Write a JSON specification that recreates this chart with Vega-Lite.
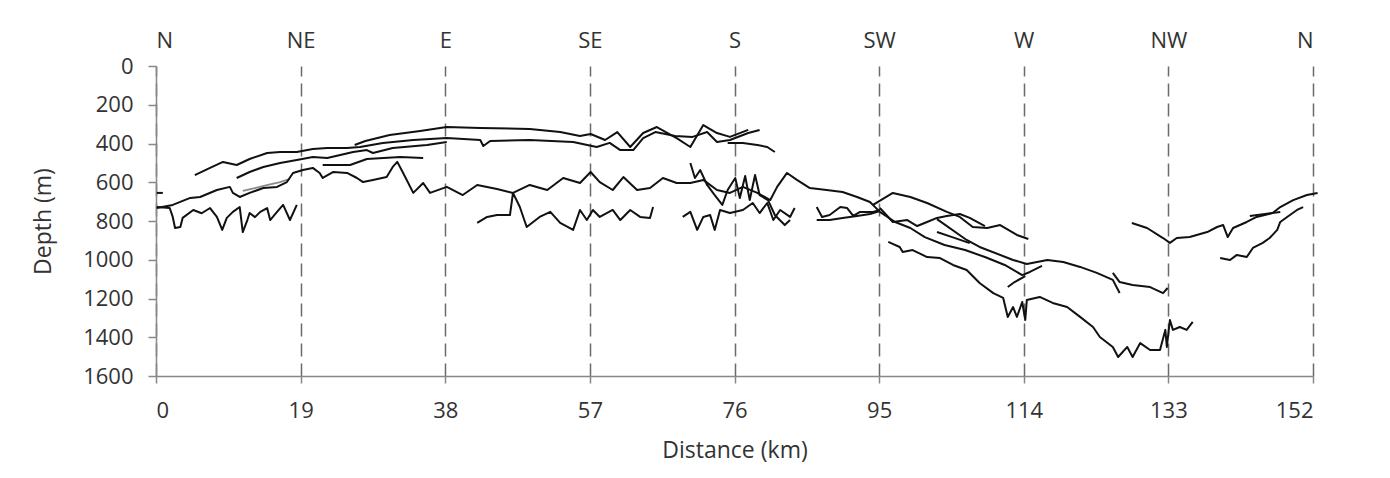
{
  "$schema": "https://vega.github.io/schema/vega-lite/v6.json",
  "autosize": {"type": "none"},
  "padding": {"left": 156, "top": 66, "right": 77, "bottom": 102},
  "width": 1157,
  "height": 310,
  "background": "white",
  "config": {
    "view": {"stroke": null},
    "axis": {
      "labelFont": "Open Sans", "labelFontSize": 22, "labelColor": "#333",
      "titleFont": "Open Sans", "titleFontSize": 23, "titleFontWeight": "normal", "titleColor": "#333",
      "domainColor": "#888", "tickColor": "#888", "domainWidth": 1.5, "tickWidth": 1.5
    }
  },
  "datasets": {
    "tracks": [
      {"s":"Z0","x":0.1,"d":655},{"s":"Z0","x":0.9,"d":655},
      {"s":"A","x":0.1,"d":728},{"s":"A","x":1.8,"d":733},{"s":"A","x":2.2,"d":779},{"s":"A","x":2.5,"d":836},{"s":"A","x":3.2,"d":831},{"s":"A","x":3.5,"d":784},{"s":"A","x":4.9,"d":743},{"s":"A","x":6.0,"d":760},{"s":"A","x":7.1,"d":733},{"s":"A","x":8.0,"d":779},{"s":"A","x":8.7,"d":846},{"s":"A","x":9.3,"d":784},{"s":"A","x":10.1,"d":753},{"s":"A","x":11.0,"d":728},{"s":"A","x":11.4,"d":857},{"s":"A","x":12.0,"d":795},{"s":"A","x":12.3,"d":759},{"s":"A","x":13.0,"d":780},{"s":"A","x":13.7,"d":753},{"s":"A","x":14.6,"d":733},{"s":"A","x":15.0,"d":795},{"s":"A","x":15.9,"d":753},{"s":"A","x":16.7,"d":717},{"s":"A","x":17.6,"d":795},{"s":"A","x":18.5,"d":717},
      {"s":"BM","x":0.1,"d":733},{"s":"BM","x":2.2,"d":717},{"s":"BM","x":4.5,"d":681},{"s":"BM","x":5.8,"d":676},{"s":"BM","x":8.0,"d":640},{"s":"BM","x":9.7,"d":624},{"s":"BM","x":10.1,"d":655},{"s":"BM","x":11.0,"d":676},{"s":"BM","x":12.3,"d":655},{"s":"BM","x":14.1,"d":630},{"s":"BM","x":15.9,"d":624},{"s":"BM","x":17.2,"d":599},{"s":"BM","x":18.0,"d":552},{"s":"BM","x":19.3,"d":537},{"s":"BM","x":20.6,"d":526},{"s":"BM","x":21.5,"d":552},{"s":"BM","x":21.9,"d":578},{"s":"BM","x":23.3,"d":547},{"s":"BM","x":25.1,"d":552},{"s":"BM","x":26.4,"d":578},{"s":"BM","x":27.2,"d":599},{"s":"BM","x":28.5,"d":588},{"s":"BM","x":30.3,"d":573},{"s":"BM","x":31.1,"d":521},{"s":"BM","x":31.7,"d":495},{"s":"BM","x":32.4,"d":547},{"s":"BM","x":33.8,"d":655},{"s":"BM","x":35.1,"d":604},{"s":"BM","x":36.0,"d":655},{"s":"BM","x":38.2,"d":624},{"s":"BM","x":40.3,"d":666},{"s":"BM","x":42.2,"d":614},{"s":"BM","x":44.8,"d":635},{"s":"BM","x":46.9,"d":655},{"s":"BM","x":49.1,"d":614},{"s":"BM","x":51.4,"d":640},{"s":"BM","x":53.5,"d":578},{"s":"BM","x":55.7,"d":604},{"s":"BM","x":57.1,"d":547},{"s":"BM","x":58.3,"d":599},{"s":"BM","x":60.0,"d":640},{"s":"BM","x":61.4,"d":573},{"s":"BM","x":63.2,"d":640},{"s":"BM","x":64.9,"d":630},{"s":"BM","x":66.6,"d":578},{"s":"BM","x":68.4,"d":604},{"s":"BM","x":70.2,"d":604},{"s":"BM","x":71.9,"d":588},{"s":"BM","x":73.7,"d":640},{"s":"BM","x":75.4,"d":655},{"s":"BM","x":77.1,"d":624},{"s":"BM","x":79.0,"d":655},{"s":"BM","x":80.7,"d":692},{"s":"BM","x":81.6,"d":624},{"s":"BM","x":82.9,"d":552},{"s":"BM","x":84.2,"d":588},{"s":"BM","x":85.9,"d":630},{"s":"BM","x":88.1,"d":640},{"s":"BM","x":90.2,"d":650},{"s":"BM","x":92.1,"d":676},{"s":"BM","x":93.8,"d":702},{"s":"BM","x":95.1,"d":753},
      {"s":"U1","x":26.1,"d":408},{"s":"U1","x":27.5,"d":387},{"s":"U1","x":30.7,"d":356},{"s":"U1","x":34.7,"d":335},{"s":"U1","x":38.2,"d":315},{"s":"U1","x":42.6,"d":320},{"s":"U1","x":49.1,"d":325},{"s":"U1","x":53.1,"d":341},{"s":"U1","x":55.7,"d":361},{"s":"U1","x":57.1,"d":351},{"s":"U1","x":59.0,"d":382},{"s":"U1","x":60.6,"d":341},{"s":"U1","x":62.3,"d":418},{"s":"U1","x":64.0,"d":346},{"s":"U1","x":65.8,"d":315},{"s":"U1","x":68.4,"d":372},{"s":"U1","x":70.2,"d":418},{"s":"U1","x":71.9,"d":305},{"s":"U1","x":73.7,"d":346},{"s":"U1","x":75.4,"d":366},{"s":"U1","x":77.8,"d":330},
      {"s":"U2","x":5.1,"d":563},{"s":"U2","x":7.1,"d":526},{"s":"U2","x":8.8,"d":495},{"s":"U2","x":10.6,"d":511},{"s":"U2","x":12.3,"d":480},{"s":"U2","x":14.6,"d":449},{"s":"U2","x":16.3,"d":444},{"s":"U2","x":18.5,"d":444},{"s":"U2","x":20.6,"d":428},{"s":"U2","x":22.5,"d":423},{"s":"U2","x":25.1,"d":423},{"s":"U2","x":26.8,"d":418},{"s":"U2","x":29.8,"d":397},{"s":"U2","x":33.8,"d":382},{"s":"U2","x":38.2,"d":372},{"s":"U2","x":42.6,"d":382},{"s":"U2","x":43.0,"d":413},{"s":"U2","x":43.9,"d":387},{"s":"U2","x":49.1,"d":382},{"s":"U2","x":54.8,"d":392},{"s":"U2","x":57.9,"d":418},{"s":"U2","x":59.6,"d":397},{"s":"U2","x":61.0,"d":434},{"s":"U2","x":62.7,"d":434},{"s":"U2","x":64.0,"d":372},{"s":"U2","x":65.6,"d":341},{"s":"U2","x":68.2,"d":361},{"s":"U2","x":70.5,"d":366},{"s":"U2","x":72.4,"d":341},{"s":"U2","x":73.7,"d":392},{"s":"U2","x":75.4,"d":382},{"s":"U2","x":77.8,"d":346},{"s":"U2","x":79.3,"d":330},
      {"s":"S2","x":10.6,"d":578},{"s":"S2","x":12.3,"d":547},{"s":"S2","x":14.1,"d":521},{"s":"S2","x":16.3,"d":501},{"s":"S2","x":18.5,"d":485},{"s":"S2","x":20.6,"d":470},{"s":"S2","x":22.5,"d":475},{"s":"S2","x":24.2,"d":459},{"s":"S2","x":25.9,"d":444},{"s":"S2","x":27.7,"d":434},{"s":"S2","x":28.5,"d":449},{"s":"S2","x":31.1,"d":423},{"s":"S2","x":35.6,"d":408},{"s":"S2","x":38.2,"d":392},
      {"s":"T","x":21.9,"d":511},{"s":"T","x":25.5,"d":511},{"s":"T","x":27.7,"d":480},{"s":"T","x":32.1,"d":470},{"s":"T","x":35.1,"d":475},
      {"s":"UR","x":75.1,"d":397},{"s":"UR","x":77.1,"d":397},{"s":"UR","x":79.0,"d":408},{"s":"UR","x":80.3,"d":418},{"s":"UR","x":81.3,"d":444},
      {"s":"L1","x":42.2,"d":810},{"s":"L1","x":43.5,"d":779},{"s":"L1","x":44.8,"d":769},{"s":"L1","x":46.5,"d":769},{"s":"L1","x":46.9,"d":655},{"s":"L1","x":47.8,"d":728},{"s":"L1","x":48.7,"d":831},{"s":"L1","x":50.4,"d":779},{"s":"L1","x":51.8,"d":753},{"s":"L1","x":53.1,"d":810},{"s":"L1","x":54.8,"d":846},{"s":"L1","x":55.7,"d":743},{"s":"L1","x":56.6,"d":795},{"s":"L1","x":57.4,"d":743},{"s":"L1","x":58.3,"d":779},{"s":"L1","x":60.0,"d":743},{"s":"L1","x":61.0,"d":795},{"s":"L1","x":62.3,"d":743},{"s":"L1","x":63.6,"d":779},{"s":"L1","x":64.9,"d":784},{"s":"L1","x":65.3,"d":728},
      {"s":"L2","x":69.2,"d":779},{"s":"L2","x":70.2,"d":753},{"s":"L2","x":71.1,"d":846},{"s":"L2","x":71.9,"d":779},{"s":"L2","x":72.8,"d":769},{"s":"L2","x":73.4,"d":846},{"s":"L2","x":74.1,"d":743},{"s":"L2","x":75.4,"d":759},{"s":"L2","x":77.1,"d":743},{"s":"L2","x":78.4,"d":707},{"s":"L2","x":79.3,"d":759},{"s":"L2","x":80.3,"d":707},{"s":"L2","x":81.1,"d":795},{"s":"L2","x":82.0,"d":743},{"s":"L2","x":83.3,"d":779},{"s":"L2","x":83.9,"d":733},
      {"s":"SP","x":70.2,"d":501},{"s":"SP","x":70.8,"d":578},{"s":"SP","x":71.5,"d":537},{"s":"SP","x":72.4,"d":614},{"s":"SP","x":73.4,"d":666},{"s":"SP","x":74.4,"d":717},{"s":"SP","x":75.1,"d":640},{"s":"SP","x":76.1,"d":578},{"s":"SP","x":76.7,"d":681},{"s":"SP","x":77.4,"d":568},{"s":"SP","x":78.0,"d":692},{"s":"SP","x":78.7,"d":563},{"s":"SP","x":79.3,"d":666},{"s":"SP","x":80.4,"d":692},{"s":"SP","x":81.3,"d":769},{"s":"SP","x":82.6,"d":821},{"s":"SP","x":83.3,"d":795},
      {"s":"P1","x":86.8,"d":728},{"s":"P1","x":87.5,"d":779},{"s":"P1","x":88.5,"d":769},{"s":"P1","x":89.9,"d":728},{"s":"P1","x":90.8,"d":733},{"s":"P1","x":91.6,"d":774},{"s":"P1","x":92.5,"d":753},{"s":"P1","x":94.2,"d":753},{"s":"P1","x":95.1,"d":743},
      {"s":"P2","x":86.8,"d":795},{"s":"P2","x":88.5,"d":795},{"s":"P2","x":90.2,"d":784},{"s":"P2","x":92.1,"d":774},{"s":"P2","x":93.8,"d":764},{"s":"P2","x":95.1,"d":748},
      {"s":"R1","x":94.2,"d":717},{"s":"R1","x":96.8,"d":655},{"s":"R1","x":99.1,"d":676},{"s":"R1","x":101.3,"d":707},{"s":"R1","x":103.9,"d":753},{"s":"R1","x":105.6,"d":779},{"s":"R1","x":107.3,"d":831},{"s":"R1","x":109.2,"d":836},{"s":"R1","x":110.9,"d":821},{"s":"R1","x":113.1,"d":872},{"s":"R1","x":114.6,"d":893},
      {"s":"R2","x":95.1,"d":733},{"s":"R2","x":96.8,"d":805},{"s":"R2","x":98.7,"d":795},{"s":"R2","x":100.0,"d":826},{"s":"R2","x":101.3,"d":805},{"s":"R2","x":102.6,"d":784},{"s":"R2","x":103.9,"d":774},{"s":"R2","x":105.6,"d":764},{"s":"R2","x":106.9,"d":784},{"s":"R2","x":108.9,"d":826},
      {"s":"R3","x":95.1,"d":753},{"s":"R3","x":97.1,"d":805},{"s":"R3","x":99.1,"d":836},{"s":"R3","x":101.0,"d":883},{"s":"R3","x":103.6,"d":924},{"s":"R3","x":106.3,"d":950},{"s":"R3","x":108.9,"d":986},{"s":"R3","x":111.5,"d":1027},{"s":"R3","x":113.8,"d":1079},{"s":"R3","x":114.8,"d":1063},{"s":"R3","x":116.4,"d":1032},
      {"s":"HK","x":111.9,"d":1141},{"s":"HK","x":112.8,"d":1115},{"s":"HK","x":114.2,"d":1084},
      {"s":"TL2","x":102.6,"d":857},{"s":"TL2","x":104.6,"d":883},{"s":"TL2","x":106.9,"d":914},
      {"s":"K","x":102.6,"d":790},{"s":"K","x":106.5,"d":898},{"s":"K","x":108.2,"d":934},{"s":"K","x":112.6,"d":1001},{"s":"K","x":114.4,"d":1022},{"s":"K","x":117.1,"d":1001},{"s":"K","x":119.2,"d":1012},{"s":"K","x":121.4,"d":1037},{"s":"K","x":123.6,"d":1068},{"s":"K","x":125.7,"d":1104},{"s":"K","x":126.6,"d":1172},
      {"s":"NW","x":125.7,"d":1068},{"s":"NW","x":126.6,"d":1115},{"s":"NW","x":128.3,"d":1130},{"s":"NW","x":130.6,"d":1141},{"s":"NW","x":132.3,"d":1172},{"s":"NW","x":132.9,"d":1146},
      {"s":"R4","x":96.2,"d":908},{"s":"R4","x":97.7,"d":934},{"s":"R4","x":98.1,"d":960},{"s":"R4","x":99.4,"d":950},{"s":"R4","x":101.3,"d":986},{"s":"R4","x":103.0,"d":991},{"s":"R4","x":104.7,"d":1027},{"s":"R4","x":106.5,"d":1053},{"s":"R4","x":108.2,"d":1120},{"s":"R4","x":110.0,"d":1172},{"s":"R4","x":111.3,"d":1197},{"s":"R4","x":111.9,"d":1295},{"s":"R4","x":112.6,"d":1244},{"s":"R4","x":113.1,"d":1295},{"s":"R4","x":113.8,"d":1218},{"s":"R4","x":114.2,"d":1311},{"s":"R4","x":114.4,"d":1208},{"s":"R4","x":116.1,"d":1192},{"s":"R4","x":117.8,"d":1223},{"s":"R4","x":119.7,"d":1244},{"s":"R4","x":121.4,"d":1295},{"s":"R4","x":123.1,"d":1347},{"s":"R4","x":124.0,"d":1399},{"s":"R4","x":125.7,"d":1450},{"s":"R4","x":126.4,"d":1502},{"s":"R4","x":127.6,"d":1450},{"s":"R4","x":128.3,"d":1502},{"s":"R4","x":129.3,"d":1430},{"s":"R4","x":130.6,"d":1466},{"s":"R4","x":131.9,"d":1466},{"s":"R4","x":132.6,"d":1362},{"s":"R4","x":132.8,"d":1450},{"s":"R4","x":133.2,"d":1311},{"s":"R4","x":133.6,"d":1362},{"s":"R4","x":134.5,"d":1347},{"s":"R4","x":135.4,"d":1362},{"s":"R4","x":136.2,"d":1321},
      {"s":"V","x":128.2,"d":810},{"s":"V","x":130.2,"d":836},{"s":"V","x":132.3,"d":888},{"s":"V","x":133.2,"d":913},{"s":"V","x":134.1,"d":888},{"s":"V","x":135.8,"d":883},{"s":"V","x":138.1,"d":857},{"s":"V","x":139.4,"d":831},{"s":"V","x":140.2,"d":821},{"s":"V","x":140.8,"d":883},{"s":"V","x":141.5,"d":836},{"s":"V","x":143.3,"d":805},{"s":"V","x":144.6,"d":779},{"s":"V","x":146.7,"d":759},{"s":"V","x":147.7,"d":728},{"s":"V","x":149.4,"d":692},{"s":"V","x":151.2,"d":666},{"s":"V","x":152.6,"d":655},
      {"s":"VR","x":139.8,"d":991},{"s":"VR","x":141.1,"d":1001},{"s":"VR","x":142.0,"d":975},{"s":"VR","x":143.3,"d":986},{"s":"VR","x":144.1,"d":939},{"s":"VR","x":145.4,"d":913},{"s":"VR","x":146.3,"d":888},{"s":"VR","x":147.3,"d":846},{"s":"VR","x":147.7,"d":805},{"s":"VR","x":148.6,"d":779},{"s":"VR","x":149.9,"d":743},{"s":"VR","x":150.7,"d":728},
      {"s":"VS","x":143.7,"d":774},{"s":"VS","x":145.7,"d":764},{"s":"VS","x":147.7,"d":753}
    ],
    "gray": [
      {"s":"G","x":11.4,"d":645},{"s":"G","x":13.0,"d":630},{"s":"G","x":14.7,"d":614},{"s":"G","x":16.3,"d":599},{"s":"G","x":17.6,"d":583}
    ]
  },
  "layer": [
    {
      "data": {"name": "gray"},
      "mark": {"type": "line", "color": "#8a8a8a", "strokeWidth": 1.8},
      "encoding": {
        "x": {"field": "x", "type": "quantitative", "scale": {"domain": [0, 152], "nice": false, "zero": false},
              "axis": {"orient": "top", "values": [0,19,38,57,76,95,114,133,152], "domain": false, "ticks": false, "tickSize": 0, "grid": false, "labelPadding": 14,
                       "labelExpr": "['N','NE','E','SE','S','SW','W','NW','N'][round(datum.value/19)]", "title": null}},
        "y": {"field": "d", "type": "quantitative", "scale": {"domain": [0, 1600], "reverse": true, "nice": false},
              "axis": {"values": [0,200,400,600,800,1000,1200,1400,1600], "format": "d", "tickSize": 8, "labelPadding": 15, "grid": false, "title": "Depth (m)", "titlePadding": 27}},
        "detail": {"field": "s"}
      }
    },
    {
      "data": {"name": "tracks"},
      "mark": {"type": "line", "color": "#111", "strokeWidth": 2, "strokeJoin": "round"},
      "encoding": {
        "x": {"field": "x", "type": "quantitative", "scale": {"domain": [0, 152], "nice": false, "zero": false},
              "axis": {"orient": "bottom", "values": [0,19,38,57,76,95,114,133,152], "tickSize": 7, "labelPadding": 17,
                       "grid": true, "gridDash": [13, 7], "gridColor": "#6a6a6a", "gridWidth": 1.5, "title": "Distance (km)", "titlePadding": 18}},
        "y": {"field": "d", "type": "quantitative", "scale": {"domain": [0, 1600], "reverse": true, "nice": false},
              "axis": {"values": [0,200,400,600,800,1000,1200,1400,1600], "format": "d", "tickSize": 8, "labelPadding": 15, "grid": false, "title": "Depth (m)", "titlePadding": 27}},
        "detail": {"field": "s"}
      }
    }
  ],
  "resolve": {"axis": {"x": "independent"}}
}
